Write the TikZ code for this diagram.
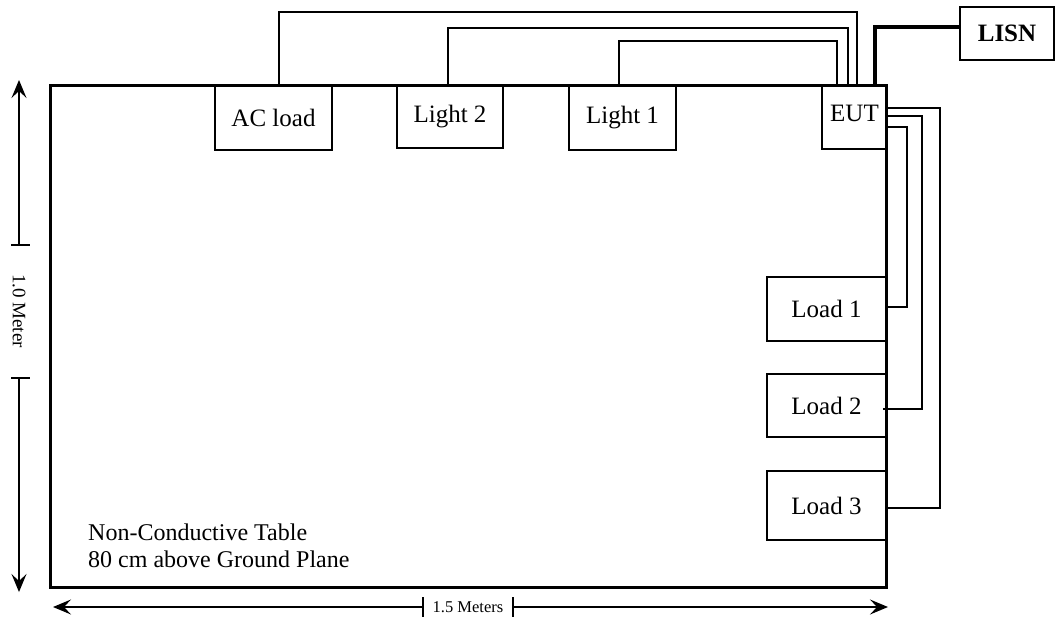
\documentclass[tikz,border=0pt]{standalone}
\usepackage{fontspec}
\setmainfont{Liberation Serif}
\usetikzlibrary{arrows.meta}
\begin{document}
\begin{tikzpicture}[x=1pt,y=-1pt,
  box/.style={draw,line width=1.8pt,inner sep=0pt,font=\fontsize{25}{29}\selectfont},
  wire/.style={line width=1.8pt},
  heavy/.style={line width=3.5pt},
  dim/.style={line width=1.4pt,-{Stealth[length=18pt,width=15pt,inset=7pt]}},
  tick/.style={line width=1.4pt},
  dimlabel/.style={font=\fontsize{19}{21}\selectfont,inner sep=0pt}]
\useasboundingbox (0,0) rectangle (1057,621);
% table
\draw[line width=3pt] (50,85) rectangle (886,587);
\node[anchor=base west,inner sep=0pt,font=\fontsize{24}{28}\selectfont] (t1) at (88,540) {Non-Conductive Table};
\node[anchor=base west,inner sep=0pt,font=\fontsize{24}{28}\selectfont] (t2) at (88,567) {80 cm above Ground Plane};
% boxes
\node[box,minimum width=117pt,minimum height=65pt] (ac) at (273.5,117.5) {AC load};
\node[box,minimum width=106pt,minimum height=63pt] (l2) at (450,116.5) {Light 2};
\node[box,minimum width=107pt,minimum height=64pt] (l1) at (622.5,118) {Light 1};
\node[box,minimum width=65pt,minimum height=64pt,text depth=8pt] (eut) at (854.5,117) {EUT};
\node[box,minimum width=119pt,minimum height=64pt] (ld1) at (826.5,309) {Load 1};
\node[box,minimum width=119pt,minimum height=63pt] (ld2) at (826.5,405.5) {Load 2};
\node[box,minimum width=119pt,minimum height=69pt] (ld3) at (826.5,505.5) {Load 3};
\node[box,minimum width=94pt,minimum height=53pt,font=\fontsize{25}{29}\selectfont\bfseries] (lisn) at (1007,33.5) {LISN};
% top wires
\draw[wire] (ac.north -| 279,0) -- (279,12) -- (857,12) -- (eut.north -| 857,0);
\draw[wire] (l2.north -| 448,0) -- (448,28) -- (848,28) -- (eut.north -| 848,0);
\draw[wire] (l1.north -| 619,0) -- (619,41) -- (837,41) -- (eut.north -| 837,0);
\draw[heavy] (eut.north -| 875,0) -- (875,27) -- (lisn.west |- 0,27);
% right wires
\draw[wire] (eut.east |- 0,108) -- (940,108) -- (940,508) -- (ld3.east |- 0,508);
\draw[wire] (eut.east |- 0,116) -- (922,116) -- (922,409) -- (883,409);
\draw[wire] (eut.east |- 0,127) -- (907,127) -- (907,307) -- (ld1.east |- 0,307);
% vertical dimension
\coordinate (vtop) at (19,80);
\coordinate (vbot) at (19,592);
\coordinate (vt1) at (19,245);
\coordinate (vt2) at (19,378);
\draw[dim] (vt1) -- (vtop);
\draw[dim] (vt2) -- (vbot);
\draw[tick] (11,245) -- (30,245);
\draw[tick] (11,378) -- (30,378);
\node[dimlabel,rotate=-90] (vlab) at (19,311) {1.0 Meter};
% horizontal dimension
\coordinate (hl) at (53,607);
\coordinate (hr) at (888,607);
\coordinate (ht1) at (423,607);
\coordinate (ht2) at (513,607);
\draw[dim] (ht1) -- (hl);
\draw[dim] (ht2) -- (hr);
\draw[tick] (423,597) -- (423,617);
\draw[tick] (513,597) -- (513,617);
\node[dimlabel,font=\fontsize{16.5}{19}\selectfont] (hlab) at (468,607) {1.5 Meters};
\end{tikzpicture}
\end{document}
